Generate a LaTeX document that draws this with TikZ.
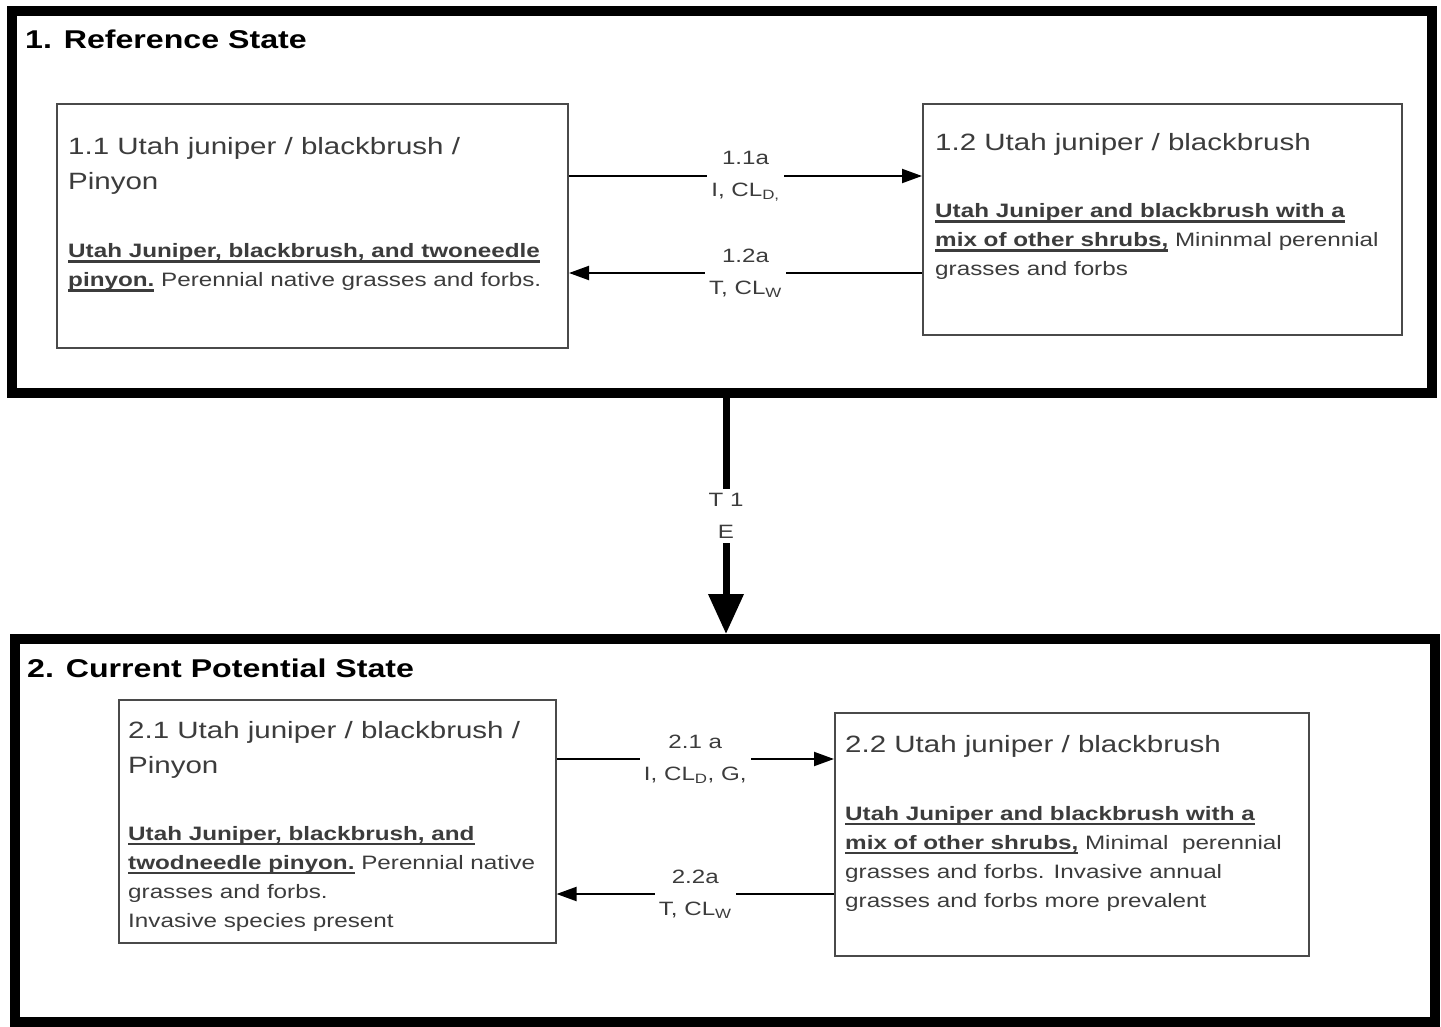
\documentclass[tikz,border=0pt]{standalone}
\usepackage{fontspec}
\setmainfont{Liberation Sans}[FakeStretch=1.25]
\usepackage{tikz}
\usetikzlibrary{arrows.meta}
\definecolor{txtgray}{HTML}{3C3C3C}
\definecolor{boxgray}{HTML}{4A4A4A}
\newsavebox{\ulinebox}
\newcommand{\ulbold}[1]{\sbox\ulinebox{\bfseries #1}\rlap{\rule[-5pt]{\wd\ulinebox}{2.5pt}}\usebox\ulinebox}
\tikzset{
  heading/.style={anchor=base west, inner sep=0, font=\fontsize{25.7}{30}\selectfont\bfseries},
  boxtitle/.style={anchor=base west, align=left, inner sep=0, text=txtgray, font=\fontsize{23.6}{35}\selectfont},
  boxbody/.style={anchor=base west, align=left, inner sep=0, text=txtgray, font=\fontsize{19.4}{29}\selectfont},
  lbl/.style={fill=white, align=center, inner sep=4pt, text=txtgray, font=\fontsize{19.3}{32}\selectfont},
  arr/.style={line width=2pt, -{Triangle[length=20pt,width=14pt]}},
  bigarr/.style={line width=7pt, -{Triangle[length=40pt,width=34pt]}}
}

\begin{document}
\begin{tikzpicture}[x=1pt,y=-1pt]
\useasboundingbox (0,0) rectangle (1441,1027);
\fill[white] (0,0) rectangle (1441,1027);

\begin{scope}[every node/.style={draw=black, line width=10pt, minimum width=1420pt}]
\node[minimum height=382pt] (1) at (722,202) {};
\node[minimum height=383pt] (2) at (725,830.5) {};
\end{scope}

\node[heading] (h1) at (25,49) {1. Reference State};
\node[heading] (h2) at (27,677) {2. Current Potential State};

\begin{scope}[every node/.style={draw=boxgray, line width=2pt}]
\node[minimum width=511pt, minimum height=244pt] (11) at (312.5,226) {};
\node[minimum width=479pt, minimum height=231pt] (12) at (1162.5,219.5) {};
\node[minimum width=437pt, minimum height=243pt] (21) at (337,821.5) {};
\node[minimum width=474pt, minimum height=243pt] (22) at (1072,834.5) {};
\end{scope}

\node[boxtitle] (t11) at (68,190) {1.1 Utah juniper / blackbrush /\\Pinyon};
\node[boxbody] (b11) at (68,287) {\ulbold{Utah Juniper, blackbrush, and twoneedle}\\\ulbold{pinyon.} Perennial native grasses and forbs.};

\node[boxtitle] (t12) at (935,151) {1.2 Utah juniper / blackbrush};
\node[boxbody] (b12) at (935,276) {\ulbold{Utah Juniper and blackbrush with a}\\\ulbold{mix of other shrubs,} Mininmal perennial\\grasses and forbs};

\node[boxtitle] (t21) at (128,773) {2.1 Utah juniper / blackbrush /\\Pinyon};
\node[boxbody] (b21) at (128,927) {\ulbold{Utah Juniper, blackbrush, and}\\\ulbold{twodneedle pinyon.} Perennial native\\grasses and forbs.\\Invasive species present};

\node[boxtitle] (t22) at (845,752) {2.2 Utah juniper / blackbrush};
\node[boxbody] (b22) at (845,907) {\ulbold{Utah Juniper and blackbrush with a}\\\ulbold{mix of other shrubs,} Minimal\ \ perennial\\grasses and forbs. Invasive annual\\grasses and forbs more prevalent};

\draw[arr] ([yshift=-73pt]11.north east) -- node[lbl] {1.1a\\I, CL\textsubscript{D,}} ([yshift=-73pt]12.north west);
\draw[arr] ([yshift=-170pt]12.north west) -- node[lbl] {1.2a\\T, CL\textsubscript{W}} ([yshift=-170pt]11.north east);
\draw[arr] ([yshift=-60pt]21.north east) -- node[lbl] {2.1 a\\I, CL\textsubscript{D}, G,} ([yshift=-47pt]22.north west);
\draw[arr] ([yshift=-182pt]22.north west) -- node[lbl] {2.2a\\T, CL\textsubscript{W}} ([yshift=-195pt]21.north east);

\draw[bigarr] ([xshift=4pt]1.south) -- node[lbl] {T 1\\E} ([xshift=1pt]2.north);

\end{tikzpicture}
\end{document}
